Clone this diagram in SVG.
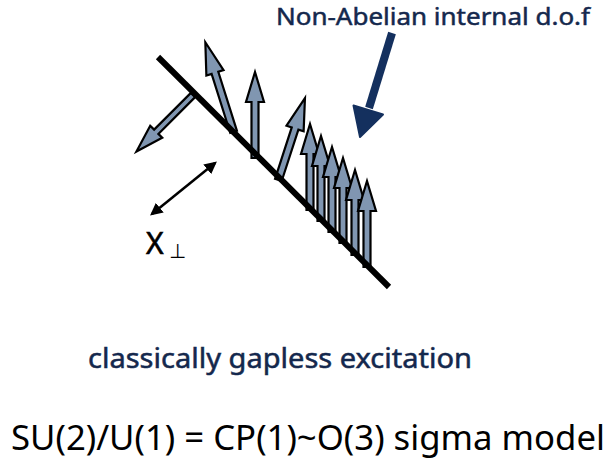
<svg xmlns="http://www.w3.org/2000/svg" width="611" height="466" viewBox="0 0 611 466">
<style>
.arr{fill:#8096b1;stroke:#000;stroke-width:2.2;stroke-linejoin:miter}
.lbl{font-family:"Noto Sans","DejaVu Sans",sans-serif;fill:#14284d;stroke:#14284d;stroke-width:0.5}
.eq{font-family:"Noto Sans","DejaVu Sans",sans-serif;fill:#000}
</style>
<defs>
<marker id="dh" viewBox="0 0 10 10" refX="8" refY="5" markerWidth="5" markerHeight="5" orient="auto-start-reverse" markerUnits="strokeWidth">
<path d="M0,0 L10,5 L0,10 z" fill="#000"/>
</marker>
</defs>
<rect width="611" height="466" fill="#fff"/>
<g id="arrows">
<polygon class="arr" transform="translate(193,95) rotate(-135)" points="-3,0 -3,-52 -8.5,-52 0,-80 8.5,-52 3,-52 3,0"/>
<polygon class="arr" transform="translate(233,130) rotate(-17.5)" points="-3.5,2 -3.5,-60 -9,-60 0,-92 9,-60 3.5,-60 3.5,2"/>
<polygon class="arr" points="251.5,158 251.5,102 246,102 255,72 264,102 258.5,102 258.5,158"/>
<polygon class="arr" transform="translate(279,178) rotate(18)" points="-3.5,2 -3.5,-52 -9,-52 0,-84 9,-52 3.5,-52 3.5,2"/>
<polygon class="arr" points="306.5,210 306.5,154 301,154 310,124 319,154 313.5,154 313.5,210"/>
<polygon class="arr" points="317.5,221 317.5,166 312,166 321,136 330,166 324.5,166 324.5,221"/>
<polygon class="arr" points="328.5,232 328.5,177 323,177 332,147 341,177 335.5,177 335.5,232"/>
<polygon class="arr" points="339.5,243 339.5,188 334,188 343,158 352,188 346.5,188 346.5,243"/>
<polygon class="arr" points="351.5,255 351.5,200 346,200 355,170 364,200 358.5,200 358.5,255"/>
<polygon class="arr" points="363.5,267 363.5,211 358,211 367,181 376,211 370.5,211 370.5,267"/>
</g>
<g id="surface">
<line x1="158" y1="57" x2="389" y2="287" stroke="#000" stroke-width="6"/>
</g>
<g id="connectors">
<line x1="152" y1="214" x2="215" y2="163" stroke="#000" stroke-width="2.5" marker-start="url(#dh)" marker-end="url(#dh)"/>
<line x1="392" y1="33" x2="369" y2="108" stroke="#14305e" stroke-width="8"/>
<polygon points="353.5,105.5 383,114.5 360,137" fill="#14305e" stroke="#14305e" stroke-width="2" stroke-linejoin="round"/>
</g>
<g id="label-dof">
<text class="lbl" x="276" y="25" font-size="24" textLength="314" lengthAdjust="spacingAndGlyphs">Non-Abelian internal d.o.f</text>
</g>
<g id="label-x">
<text class="eq" x="146" y="254" font-size="30" stroke="#000" stroke-width="0.6">X</text>
<text class="eq" x="169" y="258" font-size="20" textLength="17" lengthAdjust="spacingAndGlyphs">⊥</text>
</g>
<g id="label-gapless">
<text class="lbl" x="88" y="368" font-size="27" textLength="384" lengthAdjust="spacingAndGlyphs">classically gapless excitation</text>
</g>
<g id="label-model">
<text class="eq" x="11" y="450" font-size="35" textLength="594" lengthAdjust="spacingAndGlyphs">SU(2)/U(1) = CP(1)~O(3) sigma model</text>
</g>
</svg>
